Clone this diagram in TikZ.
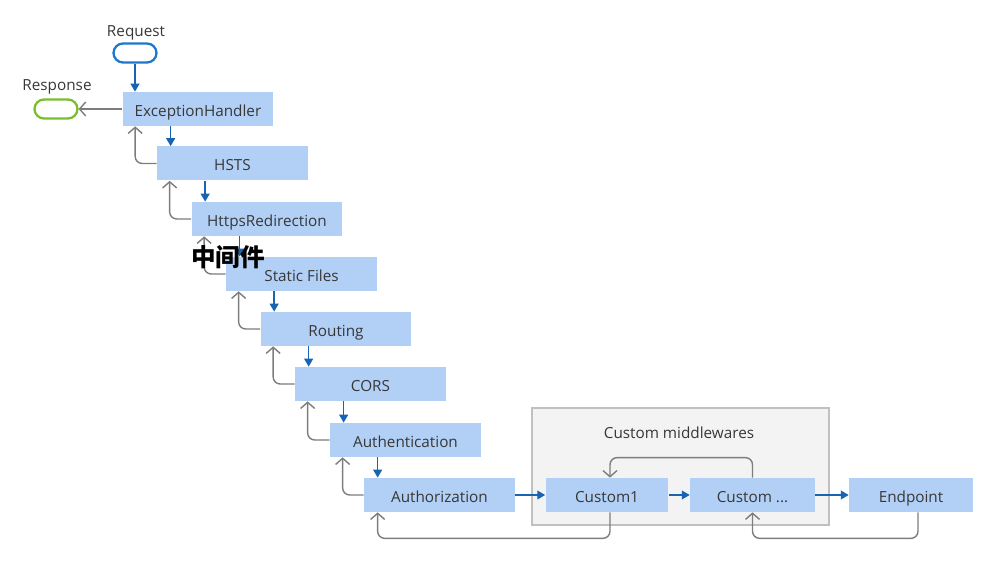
\documentclass[tikz,border=0pt]{standalone}
\usepackage{fontspec}
\setmainfont{Open Sans}
\newfontfamily\cjkfont{Noto Sans CJK SC}
\usetikzlibrary{arrows.meta}

\definecolor{mwfill}{RGB}{178,208,246}
\definecolor{fwdblue}{RGB}{22,100,178}
\definecolor{backgray}{RGB}{125,125,125}
\definecolor{txtgray}{RGB}{55,55,55}
\definecolor{reqblue}{RGB}{30,118,205}
\definecolor{respgreen}{RGB}{122,190,48}
\definecolor{groupfill}{RGB}{243,243,243}
\definecolor{groupline}{RGB}{192,192,192}

\begin{document}
\begin{tikzpicture}[x=0.02cm,y=-0.02cm,
    mw/.style={fill=mwfill,text=txtgray,minimum width=3.02cm,minimum height=0.68cm,inner sep=0pt,text height=1.6ex,text depth=0.1ex,font=\fontsize{8.7}{10}\selectfont},
    cmw/.style={mw,minimum width=2.46cm},
    lbl/.style={text=txtgray,text height=1.6ex,text depth=0.1ex,font=\fontsize{8.7}{10}\selectfont},
    pill/.style={draw,line width=1.3pt,minimum width=0.86cm,minimum height=0.38cm,rounded corners=0.19cm,inner sep=0pt},
    fwd/.style={draw=fwdblue,line width=0.8pt,-{Triangle[length=4.5pt,width=5pt]}},
    back/.style={draw=backgray,line width=0.8pt,rounded corners=4pt,-{Straight Barb[length=3.5pt,width=8pt]}}]
                \useasboundingbox (0,0) rectangle (991,563);

                \node[fill=groupfill,draw=groupline,line width=1pt,minimum width=5.94cm,minimum height=2.34cm,inner sep=0pt] (group) at (680.5,466.5){};
                \node[lbl] (grouplbl) at (679,431){Custom middlewares};

                \node[pill,draw=reqblue] (req) at (135,53){};
                \node[lbl] (reqlbl) at (136,29){Request};
                \node[pill,draw=respgreen] (resp) at (56,109){};
                \node[lbl] (resplbl) at (57,83){Response};

                \node[mw] (EH) at (198,109){ExceptionHandler};
                \node[mw] (HSTS) at (232.5,163.5){HSTS};
                \node[mw] (HR) at (267,219){HttpsRedirection};
                \node[mw] (SF) at (301.5,274){Static Files};
                \node[mw] (RT) at (336,329){Routing};
                \node[mw] (CORS) at (370.5,384){CORS};
                \node[mw] (AN) at (405.5,440){Authentication};
                \node[mw] (AZ) at (439.5,495){Authorization};
                \node[cmw] (C1) at (607,495){Custom1};
                \node[cmw,minimum width=2.5cm] (C2) at (752.5,495){Custom ...};
                \node[cmw,minimum width=2.48cm] (EP) at (911,495){Endpoint};

                % request goes down the pipeline
                \draw[fwd] (req.south) -- (req.south |- EH.north);
                \draw[fwd] ([xshift=0.28cm]HSTS.north west |- EH.south) -- ([xshift=0.28cm]HSTS.north west);
                \draw[fwd] ([xshift=0.28cm]HR.north west |- HSTS.south) -- ([xshift=0.28cm]HR.north west);
                \draw[fwd] ([xshift=0.28cm]SF.north west |- HR.south) -- ([xshift=0.28cm]SF.north west);
                \draw[fwd] ([xshift=0.28cm]RT.north west |- SF.south) -- ([xshift=0.28cm]RT.north west);
                \draw[fwd] ([xshift=0.28cm]CORS.north west |- RT.south) -- ([xshift=0.28cm]CORS.north west);
                \draw[fwd] ([xshift=0.28cm]AN.north west |- CORS.south) -- ([xshift=0.28cm]AN.north west);
                \draw[fwd] ([xshift=0.28cm]AZ.north west |- AN.south) -- ([xshift=0.28cm]AZ.north west);
                \draw[fwd] (AZ) -- (C1);
                \draw[fwd] (C1) -- (C2);
                \draw[fwd] (C2) -- (EP);

                % response comes back up
                \draw[back] (EH) -- (resp);
                \draw[back] (HSTS.west) -| ([xshift=0.26cm]EH.south west);
                \draw[back] (HR.west) -| ([xshift=0.26cm]HSTS.south west);
                \draw[back] (SF.west) -| ([xshift=0.26cm]HR.south west);
                \draw[back] (RT.west) -| ([xshift=0.26cm]SF.south west);
                \draw[back] (CORS.west) -| ([xshift=0.26cm]RT.south west);
                \draw[back] (AN.west) -| ([xshift=0.26cm]CORS.south west);
                \draw[back] (AZ.west) -| ([xshift=0.26cm]AN.south west);
                \draw[back] ([xshift=0.06cm]C1.south) -- ++(0,26) -| ([xshift=0.28cm]AZ.south west);
                \draw[back] ([xshift=0.14cm]EP.south) -- ++(0,26) -| (C2.south);
                \draw[back] (C2.north) -- ++(0,-20) -| ([xshift=0.06cm]C1.north);

                \node[font=\cjkfont\bfseries\fontsize{14}{16}\selectfont,inner sep=0pt] (midware) at (228,257){中间件};
        \end{tikzpicture}
\end{document}
